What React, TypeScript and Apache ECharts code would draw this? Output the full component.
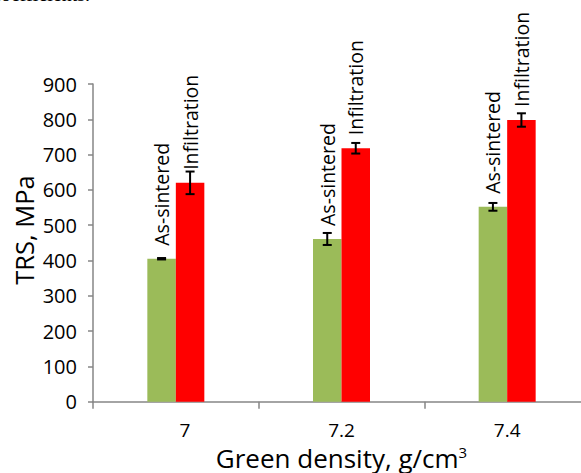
import React, { useEffect, useRef } from "react";
import * as echarts from "echarts";

const categories = ["7", "7.2", "7.4"];
const asSintered = [405, 461, 552];
const asSinteredErr = [2, 17, 11];
const infiltration = [620, 718, 798];
const infiltrationErr = [32, 15, 19];
const seriesNames = ["As-sintered", "Infiltration"];

const BAR_W = 28.5;
const FONT = "'Open Sans', 'Noto Sans', sans-serif";

export default function App() {
  const ref = useRef<HTMLDivElement>(null);
  useEffect(() => {
    if (!ref.current) return;
    const chart = echarts.init(ref.current, undefined, { renderer: "svg" });
    const errData: number[][] = [];
    asSintered.forEach((v, i) => errData.push([i, v, asSinteredErr[i], -1]));
    infiltration.forEach((v, i) => errData.push([i, v, infiltrationErr[i], 1]));
    const label = (name: string) => ({
      show: true,
      position: "top",
      rotate: 90,
      align: "left",
      verticalAlign: "middle",
      distance: 13,
      formatter: name,
      color: "#000",
      fontSize: 19.5,
      fontFamily: FONT,
    });
    chart.setOption({
      animation: false,
      grid: { left: 93, top: 84, width: 497, bottom: 71.3, outerBoundsMode: "none", containLabel: false },
      xAxis: {
        type: "category",
        data: categories,
        axisLine: { lineStyle: { color: "#868686", width: 1.5 } },
        axisTick: { show: true, length: 7, lineStyle: { color: "#868686", width: 1.5 } },
        axisLabel: {
          color: "#000",
          fontSize: 19,
          lineHeight: 19,
          fontFamily: FONT,
          margin: 19,
          formatter: (v: string, i: number) => (i === 0 ? `{p|${v}}` : v),
          rich: { p: { padding: [0, 0, 0, 18], fontSize: 19, lineHeight: 19, fontFamily: FONT, color: "#000" } },
        },
        name: "Green density, g/cm{sup|3}",
        nameLocation: "middle",
        nameGap: 40,
        nameTextStyle: {
          color: "#000",
          fontSize: 26,
          lineHeight: 26,
          fontFamily: FONT,
          rich: {
            sup: { fontSize: 15, lineHeight: 15, verticalAlign: "top", padding: [0, 0, 8, 0], fontFamily: FONT, color: "#000" },
          },
        },
      },
      yAxis: {
        type: "value",
        min: 0,
        max: 900,
        interval: 100,
        splitLine: { show: false },
        axisLine: { show: true, lineStyle: { color: "#868686", width: 1.5 } },
        axisTick: { show: true, length: 5, lineStyle: { color: "#868686", width: 1.5 } },
        axisLabel: { color: "#000", fontSize: 20, fontFamily: FONT, margin: 16 },
      },
      graphic: [
        {
          type: "text",
          x: 24,
          y: 230,
          rotation: Math.PI / 2,
          style: {
            text: "TRS, MPa",
            fontSize: 25.5,
            fontFamily: FONT,
            fill: "#000",
            align: "center",
            verticalAlign: "middle",
          },
        },
        {
          type: "text",
          x: 90,
          y: 4,
          style: {
            text: "coefficients.",
            fontSize: 20,
            fontFamily: "'Liberation Serif', serif",
            fill: "#000",
            align: "right",
            verticalAlign: "bottom",
          },
        },
      ],
      series: [
        {
          name: seriesNames[0],
          type: "bar",
          data: asSintered,
          barWidth: BAR_W,
          barGap: "0%",
          itemStyle: { color: "#9BBB59" },
          label: label(seriesNames[0]),
        },
        {
          name: seriesNames[1],
          type: "bar",
          data: infiltration,
          barWidth: BAR_W,
          barGap: "0%",
          itemStyle: { color: "#FF0000" },
          label: label(seriesNames[1]),
        },
        {
          type: "custom",
          data: errData,
          z: 10,
          encode: { x: 0, y: 1 },
          renderItem: (params: any, api: any) => {
            const idx = api.value(0);
            const v = api.value(1);
            const e = api.value(2);
            const s = api.value(3);
            const c = api.coord([idx, v]);
            const hi = api.coord([idx, v + e]);
            const lo = api.coord([idx, v - e]);
            const cx = c[0] + (s * BAR_W) / 2;
            const cap = 4.5;
            const st = { stroke: "#000", lineWidth: 2 };
            return {
              type: "group",
              children: [
                { type: "line", shape: { x1: cx, y1: hi[1], x2: cx, y2: lo[1] }, style: st },
                { type: "line", shape: { x1: cx - cap, y1: hi[1], x2: cx + cap, y2: hi[1] }, style: st },
                { type: "line", shape: { x1: cx - cap, y1: lo[1], x2: cx + cap, y2: lo[1] }, style: st },
              ],
            };
          },
        },
      ],
    });
    return () => chart.dispose();
  }, []);
  return (
    <div
      ref={ref}
      style={{ position: "fixed", left: 0, top: 0, width: 581, height: 473, background: "#fff" }}
    />
  );
}
